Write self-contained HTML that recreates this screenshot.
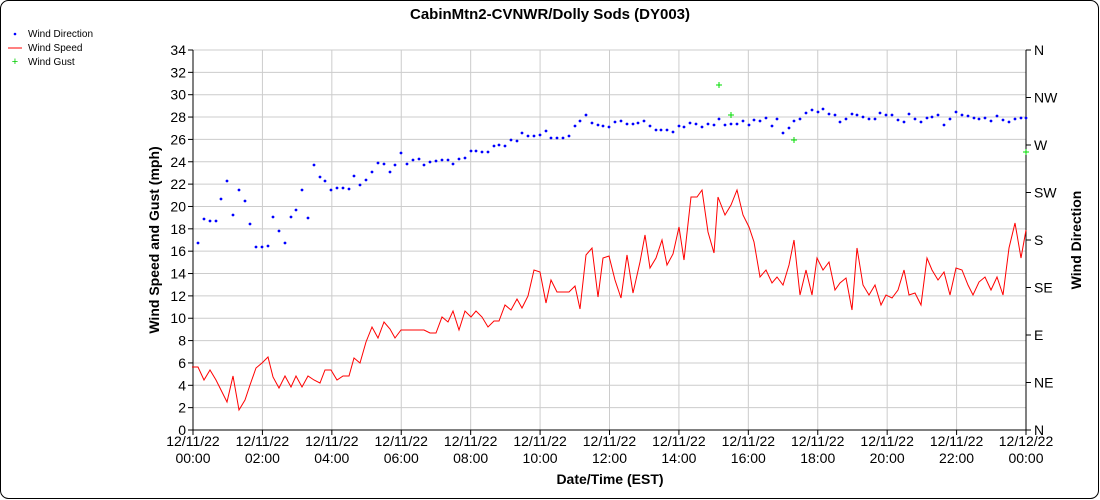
<!DOCTYPE html><html><head><style>body{margin:0;background:#fff}svg{display:block;font-family:"Liberation Sans",sans-serif}</style></head><body>
<svg id="s" width="1100" height="500" xmlns="http://www.w3.org/2000/svg">
<rect x="0.5" y="0.5" width="1098" height="498" rx="8" fill="#fff" stroke="#000"/>
<text x="550" y="19" text-anchor="middle" font-size="15" font-weight="bold">CabinMtn2-CVNWR/Dolly Sods (DY003)</text>
<g font-size="10">
<circle cx="15" cy="34" r="1.3" fill="#00f"/><text x="28" y="37">Wind Direction</text>
<line x1="8" y1="48" x2="22" y2="48" stroke="red"/><text x="28" y="51">Wind Speed</text>
<text x="15" y="65" text-anchor="middle" fill="#0c0" font-size="11">+</text><text x="28" y="65">Wind Gust</text>
</g>
<g id="grid"></g>
<text transform="translate(159,240) rotate(-90)" text-anchor="middle" font-size="14" font-weight="bold">Wind Speed and Gust (mph)</text>
<text transform="translate(1081,240) rotate(-90)" text-anchor="middle" font-size="14" font-weight="bold">Wind Direction</text>
<text x="610" y="484" text-anchor="middle" font-size="14" font-weight="bold">Date/Time (EST)</text>
</svg>
<script>
var s=document.getElementById('grid'),h='';
var L=193,R=1026,T=50,B=430;
for(var v=0;v<=34;v+=2){var y=B-v*(B-T)/34;h+='<line x1="'+L+'" x2="'+R+'" y1="'+y+'" y2="'+y+'" stroke="#ccc"/><line x1="'+(L-5)+'" x2="'+L+'" y1="'+y+'" y2="'+y+'" stroke="#000"/><text x="'+(L-7)+'" y="'+(y+5)+'" text-anchor="end" font-size="14">'+v+'</text>';}
var dn=['N','NE','E','SE','S','SW','W','NW','N'];
for(var i=0;i<9;i++){var y=B-i*(B-T)/8;h+='<line x1="'+R+'" x2="'+(R+5)+'" y1="'+y+'" y2="'+y+'" stroke="#000"/><text x="'+(R+8)+'" y="'+(y+5)+'" font-size="14">'+dn[i]+'</text>';}
var tl=['00:00','02:00','04:00','06:00','08:00','10:00','12:00','14:00','16:00','18:00','20:00','22:00','00:00'];
for(var i=0;i<13;i++){var x=L+i*(R-L)/12;h+='<line x1="'+x+'" x2="'+x+'" y1="'+T+'" y2="'+B+'" stroke="#ccc"/><line x1="'+x+'" x2="'+x+'" y1="'+B+'" y2="'+(B+5)+'" stroke="#000"/><text x="'+x+'" y="'+(B+16)+'" text-anchor="middle" font-size="14">'+(i==12?'12/12/22':'12/11/22')+'</text><text x="'+x+'" y="'+(B+33)+'" text-anchor="middle" font-size="14">'+tl[i]+'</text>';}
h+='<line x1="'+L+'" x2="'+L+'" y1="'+T+'" y2="'+B+'" stroke="#000"/><line x1="'+R+'" x2="'+R+'" y1="'+T+'" y2="'+B+'" stroke="#000"/><line x1="'+L+'" x2="'+R+'" y1="'+B+'" y2="'+B+'" stroke="#000"/>';
var sp="192,367 198,367 204,380 210,370 216,380 222,392 227,402 233,376 239,410 245,400 250,385 256,368 262,363 268,357 273,377 279,388 285,376 291,387 296,376 302,387 308,376 314,380 320,383 325,370 331,370 337,380 343,376 349,376 354,358 360,363 366,342 372,327 378,338 384,322 390,329 395,338 401,330 407,330 413,330 419,330 424,330 430,333 436,333 442,317 448,322 453,311 459,330 465,311 471,317 476,311 482,317 488,327 494,321 499,321 505,305 511,310 517,299 522,308 528,296 534,270 540,272 546,303 551,280 557,292 563,292 569,292 575,286 580,309 586,255 592,248 598,297 603,258 609,256 615,280 621,298 627,255 633,293 640,262 645,235 650,268 656,258 662,240 667,265 673,254 679,227 684,260 691,197 697,197 702,190 708,232 714,253 718,197 725,215 731,205 737,190 743,215 749,227 754,242 760,277 766,270 772,283 777,277 783,285 789,265 794,240 800,295 806,270 812,295 817,258 823,270 829,262 835,290 840,283 846,278 852,310 857,248 863,285 869,295 875,285 881,305 886,295 892,298 898,290 904,270 909,295 915,293 921,305 927,258 932,270 938,280 944,272 950,295 956,268 962,270 968,285 973,295 979,282 985,277 991,290 997,277 1003,295 1009,248 1015,223 1021,258 1026,230";
h+='<polyline points="'+sp+'" fill="none" stroke="red" stroke-width="1"/>';
var d="198,243 204,219 210,221 216,221 221,199 227,181 233,215 239,190 245,201 250,224 256,247 262,247 268,246 273,217 279,231 285,243 291,217 296,210 302,190 308,218 314,165 320,177 325,181 331,190 337,188 343,188 349,189 354,176 360,185 366,180 372,172 378,163 384,164 390,172 395,165 401,153 407,164 413,160 419,159 424,165 430,162 436,161 442,160 448,160 453,164 459,159 465,158 471,151 476,151 482,152 488,152 494,146 499,145 505,146 511,140 517,141 522,133 528,136 534,136 540,135 546,131 551,138 557,138 563,138 569,136 575,126 580,121 586,115 592,123 598,125 603,126 609,127 615,122 621,121 627,124 633,124 638,123 644,121 650,126 656,130 661,130 667,130 673,132 679,126 684,127 690,123 696,124 702,127 708,124 714,125 719,119 725,125 731,124 737,124 743,121 749,125 754,120 760,121 766,118 772,126 777,119 783,133 789,128 794,121 800,119 806,113 812,110 818,112 823,109 829,114 835,115 840,122 846,119 852,114 857,115 863,117 869,119 875,119 880,113 886,115 892,115 898,120 904,122 909,114 915,119 921,122 927,118 932,117 938,115 944,125 950,119 956,112 962,115 968,116 974,118 979,119 985,118 991,121 997,116 1003,120 1009,122 1015,119 1021,118 1026,118".split(' ');
d.forEach(function(p){var a=p.split(',');h+='<circle cx="'+a[0]+'" cy="'+a[1]+'" r="1.4" fill="#00f"/>';});
[[719,85],[731,115],[794,140],[1026,152]].forEach(function(a){h+='<path d="M'+(a[0]-3)+' '+a[1]+'h6M'+a[0]+' '+(a[1]-3)+'v6" stroke="#0d0" stroke-width="1"/>';});
s.innerHTML=h;
</script></body></html>
